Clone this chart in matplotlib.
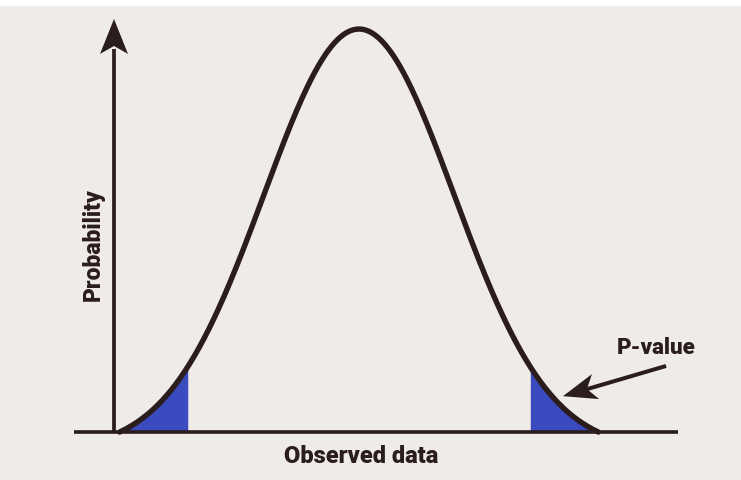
import numpy as np
import matplotlib.pyplot as plt
from matplotlib.patches import Polygon

# conceptual normal curve, x in standard-deviation units
curve_range = [-2.52, 2.52]
tail_cutoffs = [-1.8, 1.8]
x_label = 'Observed data'
y_label = 'Probability'
note_label = 'P-value'

bg = '#efece8'
ink = '#2b1c1d'
blue = '#3a4bbf'
fonts = ['Roboto', 'DejaVu Sans']

x = np.linspace(curve_range[0], curve_range[1], 500)
g = np.exp(-x**2 / 2)
g0 = np.exp(-curve_range[1]**2 / 2)
y = (g - g0) / (1 - g0)

W, H = 741, 481
fig = plt.figure(figsize=(W / 100, H / 100), dpi=100, facecolor=bg)
ax = fig.add_axes([0, 0, 1, 1])
ax.set_facecolor(bg)
ax.axis('off')
# 1 x unit = 95 px, 1 y unit = 403 px
xs, ys = 95.0, 403.0
ax.set_xlim(-3.779, -3.779 + W / xs)
ax.set_ylim(-0.119, -0.119 + H / ys)

# white strip along the top edge
fig.patches.append(plt.Rectangle((0, 1 - 6 / H), 1, 6 / H, transform=fig.transFigure,
                                 color='white', zorder=0))


def head(tip, direction, length, width, notch):
    # swept arrow head, sizes in pixels, tip/direction in data units
    d = np.array([direction[0] * xs, direction[1] * ys])
    d = d / np.hypot(*d)
    n = np.array([-d[1], d[0]])
    pts = [np.zeros(2), -length * d + width / 2 * n, -notch * d, -length * d - width / 2 * n]
    pts = [(tip[0] + p[0] / xs, tip[1] + p[1] / ys) for p in pts]
    ax.add_patch(Polygon(pts, closed=True, color=ink, lw=0, zorder=6))


# shaded tails
left = x <= tail_cutoffs[0]
right = x >= tail_cutoffs[1]
ax.fill_between(x[left], 0, y[left], color=blue, lw=0, zorder=2)
ax.fill_between(x[right], 0, y[right], color=blue, lw=0, zorder=2)

# axes
ax.plot([-3.0, 3.358], [0, 0], color=ink, lw=2.6, solid_capstyle='butt', zorder=3)
ax.plot([-2.579, -2.579], [0, 0.95], color=ink, lw=2.7, solid_capstyle='butt', zorder=3)
head((-2.579, 1.025), (0, 1), 35, 28, 27)

ax.plot(x, y, color=ink, lw=3.9, solid_capstyle='round', zorder=4)

# labels
ax.text(0.02, -0.057, x_label, ha='center', va='center', fontsize=17,
        fontweight='black', family=fonts, color=ink)
ax.text(-2.8, 0.4665, y_label, ha='center', va='center', fontsize=16.5,
        fontweight='black', family=fonts, color=ink, rotation=90)
ax.text(3.126, 0.211, note_label, ha='center', va='center', fontsize=16,
        fontweight='black', family=fonts, color=ink)

tail = np.array([3.232, 0.164])
tip = np.array([2.147, 0.089])
ax.plot([tail[0], tip[0] + 0.2], [tail[1], tip[1] + 0.2 * (tail[1] - tip[1]) / (tail[0] - tip[0])],
        color=ink, lw=2.9, solid_capstyle='butt', zorder=5)
head(tuple(tip), tuple(tip - tail), 34, 26, 25)

fig.savefig('out.png', dpi=100, facecolor=bg)
